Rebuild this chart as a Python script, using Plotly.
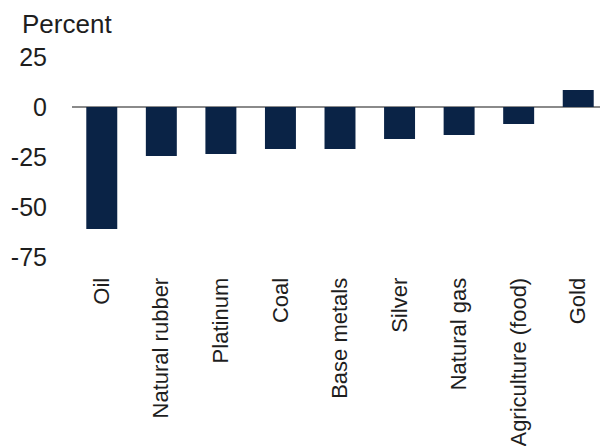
import plotly.graph_objects as go

categories = ["Oil", "Natural rubber", "Platinum", "Coal", "Base metals", "Silver",
              "Natural gas", "Agriculture (food)", "Gold"]
values = [-61, -24.5, -23.5, -21, -21, -16, -14, -8.5, 8.5]
y_ticks = [25, 0, -25, -50, -75]

font_family = "Liberation Sans, Arial, sans-serif"
text_color = "#1e1e1e"

fig = go.Figure(go.Bar(
    x=categories, y=values,
    marker=dict(color="#0a2346", line=dict(width=0)),
))

# page body has an 8px default margin, compensated here
fig.update_layout(
    width=600, height=438,
    margin=dict(l=64, r=0, t=49, b=189),
    paper_bgcolor="white", plot_bgcolor="white",
    bargap=0.48,
    showlegend=False,
    font=dict(family=font_family, size=24, color=text_color),
    annotations=[dict(
        text="Percent", xref="paper", yref="paper",
        x=-52/536, y=(257-24)/200, xanchor="left", yanchor="middle",
        showarrow=False, font=dict(family=font_family, size=26, color=text_color),
    )],
)

fig.update_xaxes(
    range=[-0.5, 8.5], tickangle=-90, showgrid=False, showline=False,
    automargin=False,
    ticks="outside", ticklen=11, tickcolor="rgba(0,0,0,0)",
    tickfont=dict(size=22, color=text_color),
)
fig.update_yaxes(
    range=[-75, 25], tickvals=y_ticks, ticktext=[str(v) for v in y_ticks],
    showgrid=False, showline=False, automargin=False,
    zeroline=True, zerolinecolor="#8a8a8a", zerolinewidth=1.5,
    ticks="outside", ticklen=19, tickcolor="rgba(0,0,0,0)",
    tickfont=dict(size=25, color=text_color),
)

fig.write_html("out.html")
